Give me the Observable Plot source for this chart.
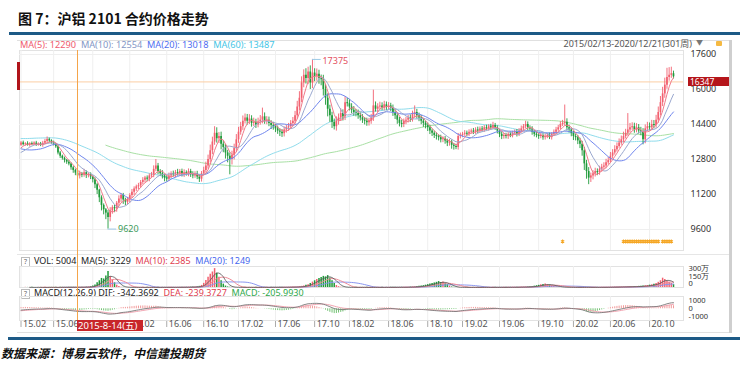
<!DOCTYPE html>
<html><head><meta charset="utf-8">
<script src="https://cdn.jsdelivr.net/npm/d3@7"></script>
<script src="https://cdn.jsdelivr.net/npm/@observablehq/plot@0.6"></script>
<style>
body{margin:0;background:#fff;}
#wrap{position:relative;width:750px;height:368px;overflow:hidden;font-family:"Noto Sans","Noto Sans CJK SC",sans-serif;background:#fff;}
.abs{position:absolute;white-space:nowrap;}
.abs svg{display:block;}
.q{display:inline-block;width:7px;height:8px;border:1px solid #bbb;font-size:7px;line-height:8px;text-align:center;color:#666;margin-right:4px;vertical-align:middle;}
</style></head><body><div id="wrap"></div>
<script>
// ---------- data ----------
const titleText = "图 7：沪铝 2101 合约价格走势";
const sourceText = "数据来源：博易云软件，中信建投期货";
const rangeLabel = "2015/02/13-2020/12/21(301周)";
const cursorIdx = 26;
const cursorLabel = "2015-8-14(五)";
const lastPrice = 16347;
const maLabels = ["MA(5)", "MA(10)", "MA(20)", "MA(60)"];
const maValues = [12290, 12554, 13018, 13487];
const volLabels = ["VOL", "MA(5)", "MA(10)", "MA(20)"];
const volValues = [5004, 3229, 2385, 1249];
const macdName = "MACD(12,26,9)";
const macdLabels = ["DIF", "DEA", "MACD"];
const macdValues = ["-342.3692", "-239.3727", "-205.9930"];
const tickIdx = [0,15,33,50,67,84,100,117,135,151,169,187,203,220,238,254,271,289];
const tickLabels = ["15.02","15.06","15.10","16.02","16.06","16.10","17.02","17.06","17.10","18.02","18.06","18.10","19.02","19.06","19.10","20.02","20.06","20.10"];
const priceTicks = [17600, 16000, 14400, 12800, 11200, 9600];
const volTicks = [300, 150, 0];
const macdTicks = [1000, 0, -1000];
const starIdx = [249,277,278,279,280,281,282,283,284,285,286,287,288,289,290,291,292,293,295,296,297,298,299];

// weekly closes before the window (for moving averages)
const history = [
14500,14450,14400,14350,14300,14400,14350,14250,14200,14150,14200,14100,14050,14000,13950,14000,13900,13800,13750,13700,
13600,13500,13450,13400,13300,13250,13200,13250,13300,13350,13400,13450,13500,13550,13600,13700,13800,13900,14000,14100,
14200,14300,14400,14450,14500,14550,14600,14650,14700,14650,14600,14550,14500,14450,14400,14350,14300,14250,14200,14100,
14000,13900,13800,13700,13600,13500,13400,13300,13200,13100,13000,12950,12900,12850,12900,13000,13100,13200,13350,13450];

// weekly closes in the window (301 weeks)
const closes = [
13560,13480,13520,13450,13530,13490,13550,13470,13510,13440,
13540,13620,13720,13650,13560,13500,13380,13100,12950,12850,
12760,12680,12600,12420,12300,12180,12050,12150,12080,12200,
12060,12120,12000,11880,11650,11400,11050,10700,10500,10350,
10150,10450,10600,10550,10800,11000,11150,10950,10850,10950,
11150,11300,11450,11550,11600,11750,11850,11950,11900,12050,
12100,12350,12500,12250,12150,12050,11950,11900,12050,12150,
12100,12200,12150,12250,12100,12200,12150,12250,12100,12050,
12150,12000,11900,12150,12300,12500,12800,13200,13600,14000,
13750,13850,13500,13350,13100,12950,12800,13000,13300,13700,
14050,14300,14550,14700,14550,14650,14450,14500,14380,14520,
14600,14750,14550,14600,14450,14350,14300,14200,14100,14050,
13980,14150,14250,14300,14450,14550,14800,15200,15600,16300,
16650,16500,16800,16300,16750,16600,16700,16500,16450,16000,
15600,15100,14800,14500,14300,14550,14700,14900,14750,15400,
15350,15200,15050,14950,14900,14800,14700,14600,14550,14480,
14550,14700,15250,15100,15200,15250,15150,15300,15200,15250,
15150,14950,14800,14600,14450,14400,14550,14600,14700,14650,
14850,14950,14800,14700,14550,14450,14350,14250,14100,14000,
13900,13850,13800,13700,13750,13650,13550,13600,13450,13400,
13350,13850,13900,13950,14000,13950,14050,14100,14050,14150,
14100,14200,14150,14250,14200,14300,14250,14350,14250,14100,
13950,13850,13900,13850,13950,13900,14000,14050,13950,14100,
14200,14300,14400,14250,14200,14050,13950,13900,13850,13900,
13800,13850,13900,13800,13950,14050,14150,14250,14400,14450,
14500,14250,14150,14000,13850,13800,13650,13500,13200,12600,
12250,11950,12050,12150,12250,12200,12350,12450,12500,12650,
12750,12950,13100,13250,13400,13550,13700,13850,14000,14150,
14250,14300,14150,14250,14100,14050,13700,14200,14300,14250,
14400,14350,14600,14950,15400,15800,16200,16550,16650,16720,
16580];

// upper shadow above the body (yuan)
const wickUp = [
60,80,50,90,40,70,60,80,50,70,90,100,110,60,50,80,40,60,70,50,
60,40,80,50,70,60,90,120,60,150,80,60,70,50,80,60,40,90,70,60,
120,150,90,110,80,140,90,100,80,120,90,130,100,80,110,90,120,80,100,90,
110,160,300,120,90,140,80,110,130,90,120,100,150,90,110,130,80,120,100,140,
90,110,120,100,150,180,200,260,220,300,250,180,200,160,140,120,150,180,200,240,
220,200,240,180,160,200,150,190,140,170,210,400,180,160,140,120,150,110,130,100,
120,140,110,150,130,170,200,260,300,280,250,300,220,280,625,200,240,180,160,200,
220,200,180,160,150,200,180,220,170,260,200,180,150,170,140,160,130,150,120,140,
130,160,720,180,150,170,140,160,130,150,120,140,110,130,120,150,100,130,120,140,
160,300,140,120,110,130,100,120,110,90,100,120,80,110,90,100,80,120,90,80,
100,140,110,90,120,100,110,90,120,100,130,90,110,100,120,90,110,150,100,90,
80,110,90,100,80,110,90,100,120,110,130,100,150,120,90,100,80,110,90,100,
80,100,90,110,80,100,120,110,130,140,790,160,120,100,90,110,100,120,130,150,
160,180,130,140,150,120,140,130,150,160,140,170,150,180,160,190,170,200,180,750,
200,180,160,190,150,170,160,180,200,170,190,180,220,250,280,300,320,420,350,300,
120];

// lower shadow below the body (yuan)
const wickDn = [
50,60,70,40,80,60,50,70,60,50,80,60,70,90,60,80,70,90,100,80,
120,100,90,110,130,120,100,140,110,90,130,100,120,150,180,200,220,250,230,300,
530,200,150,180,160,140,170,200,160,130,150,120,140,110,130,120,100,130,110,120,
100,130,110,150,120,140,170,130,110,120,100,140,110,130,100,120,110,140,120,130,
110,120,150,130,100,120,140,160,180,150,200,220,260,240,280,300,700,250,220,180,
160,140,170,130,180,150,170,140,160,130,150,170,140,160,150,180,160,170,150,200,
170,150,140,160,130,150,140,160,180,200,220,250,280,300,260,240,220,260,280,300,
320,350,300,280,150,200,180,160,190,170,150,180,160,170,150,160,140,150,170,160,
150,140,160,130,150,140,120,130,150,140,160,180,170,190,160,150,140,160,130,150,
140,160,150,170,160,180,150,170,160,150,140,160,150,140,130,150,160,140,180,170,
100,120,110,100,90,110,100,90,110,100,120,90,100,110,90,100,110,90,120,130,
150,140,120,110,130,100,110,90,120,100,90,110,100,130,120,140,120,110,130,100,
120,110,100,90,110,100,90,110,100,90,120,150,140,160,180,150,170,200,250,300,
350,300,200,180,150,140,120,130,110,120,100,110,120,100,110,90,100,120,110,130,
140,120,150,130,140,160,230,180,120,140,130,150,120,140,160,180,200,190,170,140,
100];

// weekly volume (万手)
const vol = [
2,2,3,2,2,3,2,2,3,2, 2,3,2,2,3,2,3,2,3,3, 3,3,4,3,4,4,5,4,5,6,
8,11,16,28,50,90,130,175,165,220, 310,210,150,90,45,18,7,4,3,3,
2,3,2,3,2,2,3,2,3,2, 3,3,2,3,2,3,3,2,3,3, 3,4,3,4,4,5,5,6,7,8,
11,15,22,40,80,135,200,255,300,365, 275,200,130,65,28,11,5,4,3,3,
2,3,2,3,2,3,2,2,3,2, 3,2,3,3,2,3,3,4,3,4, 4,5,5,6,7,8,9,12,16,22,
30,42,55,78,105,130,155,175,195,215, 205,230,185,130,75,38,16,6,4,3,
3,2,3,2,3,2,2,3,2,3, 2,3,3,2,3,2,3,2,3,2, 3,3,4,3,4,5,5,6,7,8,
11,13,17,22,28,35,45,55,66,77, 88,100,115,95,105,78,55,28,11,5,
3,3,2,3,2,3,2,2,3,2, 3,2,3,2,3,3,2,3,3,2, 3,3,4,3,4,4,5,5,6,7,
8,9,10,12,15,20,26,34,42,52, 60,66,55,48,38,27,16,10,6,4,
3,3,4,3,3,2,3,3,4,3, 3,4,3,3,4,3,3,4,4,5, 5,6,7,8,9,10,11,12,13,14,
15,16,18,20,22,25,28,32,38,45, 52,62,78,100,130,180,155,120,100,78,
55];

// ---------- derived series ----------
const H = history.length;
const all = history.concat(closes);
const bars = closes.map((c, i) => {
  const o = i === 0 ? history[H - 1] : closes[i - 1];
  return {i, open: o, close: c, high: Math.max(o, c) + wickUp[i], low: Math.min(o, c) - wickDn[i], up: c >= o, vol: vol[i]};
});
function ma(src, offset, n) {
  const out = [];
  for (let i = 0; i < src.length - offset; i++) {
    const k = i + offset;
    if (k < n - 1) continue;
    let s = 0; for (let j = k - n + 1; j <= k; j++) s += src[j];
    out.push({i, v: s / n});
  }
  return out;
}
const ma5 = ma(all, H, 5), ma10 = ma(all, H, 10), ma20 = ma(all, H, 20), ma60 = ma(all, H, 60), ma120 = ma(all, H, 120);
const vma5 = ma(vol, 0, 5), vma10 = ma(vol, 0, 10), vma20 = ma(vol, 0, 20);
const macd = [];
{ let e12 = all[0], e26 = all[0], dea = 0;
  all.forEach((c, k) => {
    e12 = e12 * 11 / 13 + c * 2 / 13; e26 = e26 * 25 / 27 + c * 2 / 27;
    const dif = e12 - e26; dea = dea * 0.8 + dif * 0.2;
    if (k >= H) macd.push({i: k - H, dif, dea, bar: 2 * (dif - dea)});
  }); }
const hi = bars.reduce((a, b) => b.high > a.high ? b : a);
const lo = bars.reduce((a, b) => b.low < a.low ? b : a);

// ---------- layout ----------
const wrap = document.getElementById("wrap");
function add(css, html) { const d = document.createElement("div"); d.className = "abs"; d.style.cssText = css; if (html != null) d.innerHTML = html; wrap.appendChild(d); return d; }

const UP = "#f2606f", DN = "#1f9a3a";
const W = 730, ML = 19, MR = 47, xDomain = [-0.7, 304.6];
const st = {background: "transparent", overflow: "visible", fontFamily: "'Noto Sans', sans-serif", fontSize: "9px", color: "#333"};
const common = {width: W, marginLeft: ML, marginRight: MR, x: {domain: xDomain, axis: null}, style: st};
const gridX = () => Plot.ruleX(tickIdx, {stroke: "#efefef"});
const frame = () => Plot.frame({stroke: "#e2e2e2"});

add("left:18px;top:8px;font-size:14px;font-weight:bold;font-family:'Noto Sans CJK SC';color:#111;line-height:20px;", titleText);
add("left:9px;top:32px;width:731px;height:3px;background:#1d5a86;");
add("left:17px;top:40px;width:712px;height:1px;background:#e0e0e0;");
add("left:729px;top:40px;width:3px;height:293px;background:#cfcfcf;");
add("left:17px;top:332px;width:712px;height:1px;background:#e0e0e0;");

const maColors = ["#ef5b6e", "#8497c6", "#4f6ef0", "#46c6e6"];
add("left:20px;top:39px;font-size:9.2px;line-height:12px;", maLabels.map((l, k) => `<span style="color:${maColors[k]}">${l}: ${maValues[k]}</span>`).join("&nbsp;&nbsp;"));
add("left:560px;top:38px;width:132px;text-align:right;font-size:9px;line-height:12px;color:#555;", rangeLabel);
add("left:696px;top:38px;font-size:7px;line-height:10px;color:#777;", "▼");
add("left:716px;top:41px;width:6px;height:5px;background:#f5b942;border-radius:1px;");

const priceChart = Plot.plot({...common, height: 200, marginTop: 0, marginBottom: 0,
  y: {domain: [8640, 17783], axis: null},
  marks: [
    frame(), gridX(),
    Plot.ruleY(priceTicks, {stroke: "#efefef"}),
    Plot.ruleY([lastPrice], {stroke: "#fbcfa5"}),
    Plot.line(ma120, {x: "i", y: "v", stroke: "#a8e0a4", strokeWidth: 1}),
    Plot.line(ma60, {x: "i", y: "v", stroke: "#8fdcec", strokeWidth: 1}),
    Plot.ruleX(bars, {x: "i", y1: "low", y2: "high", stroke: d => d.up ? UP : DN, strokeWidth: 0.9}),
    Plot.ruleX(bars, {x: "i", y1: "open", y2: "close", stroke: d => d.up ? UP : DN, strokeWidth: 1.7}),
    Plot.line(ma20, {x: "i", y: "v", stroke: "#7086ee", strokeWidth: 1}),
    Plot.line(ma10, {x: "i", y: "v", stroke: "#9aa8cf", strokeWidth: 1}),
    Plot.line(ma5, {x: "i", y: "v", stroke: "#f07b8a", strokeWidth: 1}),
    Plot.dot(starIdx, {x: d => d, frameAnchor: "bottom", dy: -9, symbol: "asterisk", r: 1.8, stroke: "#f5a623", strokeWidth: 1.1}),
    Plot.ruleY([hi], {y: "high", x1: "i", x2: d => d.i + 4, stroke: "#9cc9e6"}),
    Plot.text([hi], {x: "i", y: "high", text: d => String(d.high), dx: 10, dy: 2, textAnchor: "start", fill: "#e3525f", fontSize: 9}),
    Plot.ruleY([lo], {y: "low", x1: "i", x2: d => d.i + 4, stroke: "#9cc9e6"}),
    Plot.text([lo], {x: "i", y: "low", text: d => String(d.low), dx: 10, textAnchor: "start", fill: "#3d9a5a", fontSize: 9}),
    Plot.text(priceTicks, {y: d => d, text: d => String(d), frameAnchor: "right", dx: 7, textAnchor: "start", fill: "#333"})
  ]});
add("left:0;top:50px;").appendChild(priceChart);

const px = priceChart.scale("x").apply(cursorIdx);
const py = priceChart.scale("y").apply(lastPrice) + 50;
add(`left:688px;top:${py - 4}px;width:41px;height:9px;background:#b5161b;color:#fff;font-size:8.5px;line-height:9px;padding-left:2px;box-sizing:border-box;`, String(lastPrice));
add("left:17px;top:62px;width:2.5px;height:28px;background:#b0141a;");

add("left:17px;top:254px;width:712px;height:1px;background:#e6e6e6;");
add("left:21px;top:255px;font-size:9px;line-height:12px;",
  `<span class="q">?</span><span style="color:#222">${volLabels[0]}: ${volValues[0]}&nbsp; ${volLabels[1]}: ${volValues[1]}</span>&nbsp; <span style="color:#e0404f">${volLabels[2]}: ${volValues[2]}</span>&nbsp; <span style="color:#4466ee">${volLabels[3]}: ${volValues[3]}</span>`);

const volChart = Plot.plot({...common, height: 22, marginTop: 0, marginBottom: 1,
  y: {domain: [0, 406], axis: null},
  marks: [
    frame(), gridX(),
    Plot.ruleX(bars, {x: "i", y1: 0, y2: "vol", stroke: d => d.up ? UP : DN, strokeWidth: 1.5}),
    Plot.line(vma20, {x: "i", y: "v", stroke: "#8a96f0", strokeWidth: 1}),
    Plot.line(vma10, {x: "i", y: "v", stroke: "#f08c98", strokeWidth: 1}),
    Plot.line(vma5, {x: "i", y: "v", stroke: "#555", strokeWidth: 0.8}),
    Plot.text(volTicks, {y: d => d, text: d => d === 0 ? "0" : d + "万", frameAnchor: "right", dx: 5, dy: -3.5, textAnchor: "start", fill: "#333", fontSize: 7.5})
  ]});
add("left:0;top:266px;").appendChild(volChart);

add("left:21px;top:287px;font-size:9px;line-height:12px;",
  `<span class="q">?</span><span style="color:#222">${macdName} ${macdLabels[0]}: ${macdValues[0]}</span>&nbsp; <span style="color:#e0404f">${macdLabels[1]}: ${macdValues[1]}</span>&nbsp; <span style="color:#2ea84a">${macdLabels[2]}: ${macdValues[2]}</span>`);

const macdChart = Plot.plot({...common, height: 36, marginTop: 0, marginBottom: 12,
  style: {...st, color: "#aaa"},
  x: {domain: xDomain, axis: "bottom", ticks: tickIdx, tickSize: 7, tickFormat: () => "", label: null},
  y: {domain: [-1510, 1587], axis: null},
  marks: [
    frame(), gridX(),
    Plot.ruleX(macd, {x: "i", y1: 0, y2: "bar", stroke: d => d.bar >= 0 ? "#f29a9a" : "#72c272", strokeWidth: 1}),
    Plot.line(macd, {x: "i", y: "dea", stroke: "#f2a5b2", strokeWidth: 1}),
    Plot.line(macd, {x: "i", y: "dif", stroke: "#777", strokeWidth: 0.9}),
    Plot.text(macdTicks, {y: d => d, text: d => String(d), frameAnchor: "right", dx: 5, textAnchor: "start", fill: "#333", fontSize: 7.5}),
    Plot.text(tickIdx, {x: d => d, text: (d, k) => tickLabels[k], frameAnchor: "bottom", dy: 6, dx: 2, textAnchor: "start", fill: "#555", fontSize: 9})
  ]});
add("left:0;top:296px;").appendChild(macdChart);

// crosshair and its date box
add(`left:${px - 0.5}px;top:50px;width:1px;height:270px;background:#f5a54a;`);
add(`left:${px}px;top:320px;width:66px;height:11px;background:#c8262a;color:#fff;font-size:9.5px;line-height:11px;padding-left:1px;box-sizing:border-box;`, cursorLabel);

add("left:8px;top:337px;width:732px;height:3px;background:#1d5a86;");
add("left:1px;top:345px;font-size:12px;font-weight:bold;font-style:italic;font-family:'Noto Sans CJK SC';color:#111;line-height:16px;", sourceText);
</script></body></html>
